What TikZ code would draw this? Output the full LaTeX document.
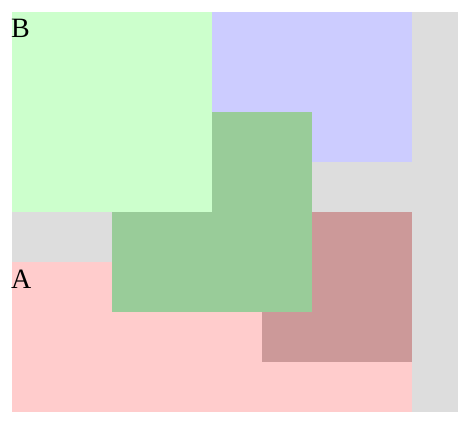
\documentclass[tikz,border=0pt]{standalone}
\usepackage{fontspec}
\setmainfont{Liberation Serif}
\definecolor{cgray}{HTML}{DDDDDD}
\definecolor{cgreen}{HTML}{CCFFCC}
\definecolor{cblue}{HTML}{CCCCFF}
\definecolor{cpink}{HTML}{FFCCCC}
\definecolor{cdgreen}{HTML}{99CC99}
\definecolor{crose}{HTML}{CC9999}
\begin{document}
\begin{tikzpicture}[x=1pt,y=-1pt,
  lbl/.style={anchor=base west,inner sep=0pt,font=\fontsize{28}{30}\selectfont}]
\useasboundingbox (0,0) rectangle (458,422);
\fill[white] (0,0) rectangle (458,422);
\fill[cgray] (12,12) rectangle (458,412);
\fill[cblue] (212,12) rectangle (412,162);
\fill[cpink] (12,262) rectangle (412,412);
\fill[crose] (262,212) rectangle (412,362);
\fill[cdgreen] (112,112) rectangle (312,312);
\fill[cgreen] (12,12) rectangle (212,212);
\node[lbl] (b) at (11,38) {B};
\node[lbl] (a) at (11,288) {A};
\end{tikzpicture}
\end{document}
